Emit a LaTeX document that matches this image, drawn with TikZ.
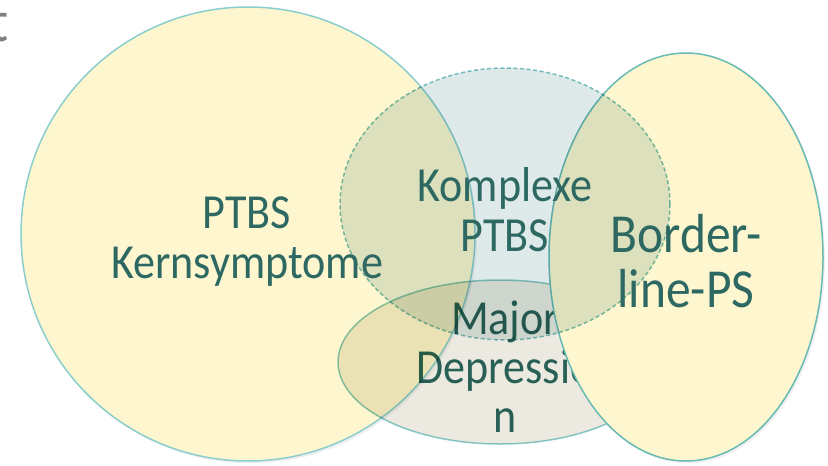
\documentclass[tikz,border=0pt]{standalone}
\usepackage{fontspec}
\setmainfont[FakeStretch=0.9]{Carlito}
\usetikzlibrary{shadows}
\definecolor{setyellow}{RGB}{253,246,206}
\definecolor{setblue}{RGB}{222,233,233}
\definecolor{setbeige}{RGB}{236,234,224}
\definecolor{setline}{RGB}{140,206,206}
\definecolor{setlinedark}{RGB}{104,186,180}
\definecolor{settext}{RGB}{45,105,98}
\begin{document}
\begin{tikzpicture}[x=0.5pt,y=-0.5pt,
  every node/.style={text=settext, align=center, inner sep=0pt, font=\fontsize{24.5}{25}\selectfont},
  setshape/.style={line width=0.75pt, drop shadow={opacity=0.12, shadow xshift=1pt, shadow yshift=-1.2pt}}]
  \useasboundingbox (0,0) rectangle (828,465);
  \node[text=gray, font=\fontsize{30}{30}\selectfont, anchor=base east] (title) at (9,42) {t};
  % Kernsymptome first, on white
  \path[setshape, fill=setyellow, draw=setline] (248,234) ellipse [x radius=227, y radius=227];
  % Depression (multiplied)
  \begin{scope}[blend mode=multiply]
    \path[line width=0.75pt, fill=setbeige, draw=setline] (500,362) ellipse [x radius=162, y radius=82];
    \node[font=\fontsize{24.5}{24.5}\selectfont] (major) at (505,367) {Major\\Depressio\\n};
  \end{scope}
  % Borderline on top
  \path[setshape, fill=setyellow, draw=setlinedark] (686,257) ellipse [x radius=137, y radius=204];
  % komplexe PTBS
  \begin{scope}[blend mode=multiply]
    \path[line width=0.75pt, fill=setblue, draw=setline!90!teal, dash pattern=on 2pt off 1.3pt] (505,204) ellipse [x radius=165, y radius=136];
  \end{scope}
  \node (kern) at (247,242) {PTBS\\Kernsymptome};
  \node (komplex) at (505,210) {Komplexe\\PTBS};
  \node[font=\fontsize{27.5}{27.5}\selectfont] (border) at (686,261) {Border-\\line-PS};
\end{tikzpicture}
\end{document}
